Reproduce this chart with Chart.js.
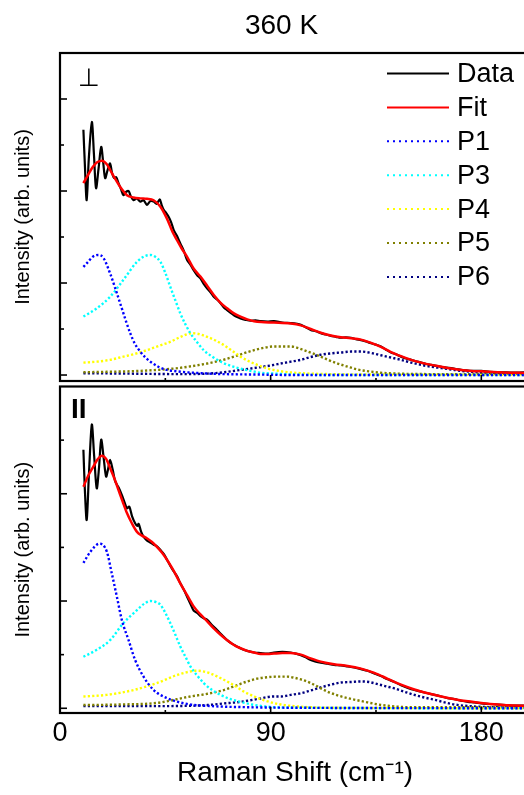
<!DOCTYPE html>
<html><head><meta charset="utf-8">
<script src="https://cdn.jsdelivr.net/npm/chart.js@4/dist/chart.umd.min.js"></script>
<style>
html,body{margin:0;padding:0;background:#fff;}
#wrap{position:relative;width:524px;height:795px;overflow:hidden;background:#fff;}
canvas{position:absolute;left:0;top:0;}
</style></head><body>
<div id="wrap">
<canvas id="c2" width="530" height="795" style="width:530px;height:795px"></canvas>
<canvas id="c1" width="563" height="384" style="width:563px;height:384px"></canvas>
</div>
<script>
// ---------- Data ----------
const titleText = '360 K';
const seriesNames = ['Data', 'Fit', 'P1', 'P3', 'P4', 'P5', 'P6'];
const xMajorTicks = [0, 90, 180];
const xMinorTicks = [45, 135];

// Perpendicular (top panel)
const perpDataX = [10,10.6,11.4,12.3,13.6,14.5,15.4,16.5,17.6,18.5,19.3,20.3,21.4,22.2,23.1,24,25,26,27.1,28.2,29.3,30.3,31.4,32.8,34.3,35.7,37.1,38.6,40,41.3,42.6,43.4,44.3,45.4,46.4,47.5,48.6,50,51.4,52.9,54.3,55.7,57.1,58.6,60,61.4,62.9,64.3,65.7,67.1,68.6,70,71.4,72.9,74.3,75.7,77.1,79.3,81.4,83.6,85.7,88.6,91.4,95,98.6,100.7,102.9,105,107.1,109.3,111.4,113.6,115.7,117.9,120,122.1,124.3,126.4,128.6,130.7,132.9,135,137.1,139.3,141.4,143.6,145.7,147.9,150,152.1,154.3,156.4,158.6,160.7,162.9,165,167.1,169.3,171.4,173.6,175.7,177.9,180,183.6,187.1,190.7,194.3,198,202,206,210,215];
const perpDataY = [5.33,4.6,3.8,4.7,5.5,4.8,4.06,4.5,4.96,4.6,4.28,4.45,4.6,4.4,4.28,4.3,4.17,4.05,3.91,3.98,4.0,3.88,3.8,3.84,3.77,3.8,3.7,3.78,3.77,3.72,3.82,3.7,3.59,3.52,3.44,3.32,3.15,3.02,2.86,2.7,2.5,2.4,2.28,2.17,2.1,1.98,1.88,1.8,1.7,1.64,1.56,1.47,1.41,1.35,1.3,1.26,1.23,1.2,1.18,1.19,1.17,1.16,1.17,1.14,1.13,1.12,1.09,1.04,0.98,0.95,0.91,0.88,0.85,0.83,0.81,0.82,0.81,0.78,0.76,0.73,0.69,0.66,0.62,0.55,0.49,0.45,0.4,0.36,0.33,0.3,0.27,0.24,0.22,0.2,0.18,0.16,0.15,0.13,0.11,0.1,0.09,0.09,0.09,0.07,0.06,0.06,0.05,0.06,0.05,0.05,0.05,0.05];
const perpFitX = [10,12,14,16,17.9,20,21.4,23.5,25.7,28.6,31.4,34.3,37.1,40,42.9,45.7,48,50,52,54.3,57,60,63,65.7,68.6,71.4,74.3,77.1,80,82.9,86,91.4,98.6,102.9,107.1,111.4,115.7,120,124.3,128.6,132.9,137.1,141.4,145.7,150,154.3,158.6,162.9,167.1,171.4,175.7,180,187,194,205,215];
const perpFitY = [4.17,4.35,4.52,4.63,4.66,4.58,4.46,4.27,4.09,3.91,3.86,3.84,3.83,3.8,3.66,3.4,3.12,2.93,2.75,2.57,2.32,2.14,1.93,1.74,1.57,1.45,1.34,1.27,1.21,1.17,1.15,1.14,1.12,1.08,1.0,0.92,0.86,0.82,0.8,0.77,0.7,0.61,0.5,0.41,0.33,0.27,0.22,0.18,0.14,0.11,0.09,0.08,0.06,0.05,0.04,0.04];
const perpP1X = [10,12,14,16.4,18.5,21.4,23.5,25.7,28,30,32,34.3,36.5,38.6,42,45.7,50,54,60,70,85,100,130,215];
const perpP1Y = [2.35,2.46,2.57,2.61,2.55,2.21,1.9,1.56,1.2,0.91,0.68,0.51,0.38,0.29,0.18,0.11,0.08,0.06,0.04,0.02,0.01,0,0,0];
const perpP3X = [10,15.7,21.4,27.1,32.9,36,38.6,41,42.9,45,47.1,49.3,51.4,53.6,55.7,58.6,61.4,65,68.6,72.9,77.1,81.4,85.7,92,100,120,215];
const perpP3Y = [1.27,1.45,1.7,2.07,2.46,2.58,2.61,2.56,2.46,2.22,1.92,1.62,1.34,1.1,0.91,0.71,0.54,0.4,0.29,0.2,0.14,0.09,0.05,0.03,0.01,0,0];
const perpP4X = [10,15.7,21.4,27.1,32,37.1,42,47.1,52,56.4,59.5,62.9,66.5,70,73.5,77.1,80.7,84.3,88,91.4,96,103,115,140,215];
const perpP4Y = [0.27,0.29,0.33,0.4,0.46,0.54,0.63,0.72,0.84,0.91,0.89,0.83,0.75,0.65,0.53,0.4,0.3,0.22,0.15,0.11,0.07,0.04,0.02,0.01,0];
const perpP5X = [10,20,34.3,48.6,56,62.9,69,74.3,79,82.9,87,91.4,95,98.6,101.5,104.3,108,111.4,115,118.6,123,127.1,132,137,145,160,215];
const perpP5Y = [0.06,0.07,0.09,0.14,0.19,0.25,0.32,0.4,0.48,0.54,0.59,0.62,0.62,0.62,0.59,0.54,0.47,0.4,0.32,0.25,0.18,0.12,0.08,0.05,0.03,0.02,0.02];
const perpP6X = [10,30,50,62.9,70,77.1,84,91.4,94.3,98.6,102.9,107,111.4,115.7,120,124.3,128.6,132.9,137.1,141.4,145.7,150,154.3,158.6,162.9,167.1,171.4,175.7,180,190,215];
const perpP6Y = [0.04,0.03,0.02,0.03,0.06,0.11,0.16,0.22,0.25,0.29,0.33,0.39,0.44,0.47,0.49,0.51,0.51,0.48,0.43,0.38,0.33,0.27,0.22,0.18,0.15,0.12,0.09,0.07,0.05,0.03,0.02];
const perpYMajor = [0, 2, 4, 6];
const perpYMinor = [1, 3, 5];

// Parallel (bottom panel)
const paraDataX = [10,10.6,11.4,12.4,13.6,14.6,15.7,16.7,17.6,18.7,19.7,20.5,21.4,22.5,23.6,25,26.4,27.5,28.6,29.6,30.8,32.1,33,33.6,34.6,35.7,37.1,38.6,40,41.4,42.9,44.3,45.7,47.1,48.6,50,51.4,52.9,54.3,55.7,57.1,58.6,60,61.4,62.9,65,67.1,69.3,71.4,73.6,75.7,77.9,80,82.9,85.7,88.6,91.4,95,98.6,100.7,102.9,105,107.1,109.3,111.4,114.3,117.1,120,122.9,125.7,128.6,131.4,134.3,137.1,140,142.9,145.7,148.6,151.4,154.3,157.1,160,162.9,165.7,168.6,171.4,174.3,177.1,180,183.5,187,190.5,194,198,202,206,210,215];
const paraDataY = [4.82,4.1,3.51,4.4,5.29,4.7,4.1,4.5,5.01,4.65,4.32,4.45,4.63,4.45,4.23,4.12,3.98,3.85,3.73,3.76,3.58,3.45,3.4,3.44,3.3,3.2,3.13,3.09,3.05,3.02,2.95,2.88,2.77,2.66,2.55,2.46,2.33,2.21,2.08,1.95,1.82,1.78,1.72,1.68,1.65,1.55,1.46,1.36,1.27,1.2,1.15,1.1,1.07,1.04,1.03,1.02,1.04,1.05,1.04,1.02,0.99,0.95,0.9,0.87,0.85,0.83,0.81,0.8,0.78,0.76,0.73,0.7,0.65,0.6,0.54,0.49,0.43,0.38,0.34,0.31,0.28,0.25,0.22,0.19,0.17,0.14,0.12,0.11,0.09,0.08,0.07,0.06,0.05,0.05,0.05,0.05,0.05,0.05];
const paraFitX = [10,12,14.3,16,17.9,19.7,21.4,23.2,25,26.8,28.6,30.7,32.9,35,37.1,39.3,41.4,43.6,45.7,48.6,51.4,54.3,57.1,60,62.9,65.7,68.6,71.4,74.3,77.1,80,82.9,85.7,88.6,91.4,95,98.6,102.9,107.1,111.4,117.1,122.9,128.6,134.3,140,145.7,151.4,157.1,162.9,168.6,174.3,180,187,194,205,215];
const paraFitY = [4.13,4.33,4.51,4.64,4.71,4.65,4.48,4.29,4.07,3.85,3.64,3.45,3.29,3.22,3.17,3.1,3.01,2.9,2.77,2.56,2.33,2.11,1.9,1.75,1.62,1.49,1.37,1.27,1.18,1.12,1.07,1.04,1.01,1.01,1.02,1.03,1.03,1.0,0.93,0.87,0.82,0.79,0.74,0.66,0.55,0.44,0.35,0.28,0.22,0.17,0.13,0.1,0.07,0.05,0.04,0.04];
const paraP1X = [10,13,16.9,20,22.1,24.3,26.4,29.3,32.1,35.7,40,45.7,54.3,65,80,100,215];
const paraP1Y = [2.71,2.92,3.07,2.92,2.52,2.08,1.65,1.27,0.9,0.59,0.34,0.19,0.08,0.04,0.02,0.01,0];
const paraP3X = [10,15.7,21.4,27.1,32.9,36,38.6,41,42.9,45,47.1,49.3,51.4,53.6,55.7,58.6,61.4,65,68.6,72.9,77.1,82,88.6,100,215];
const paraP3Y = [0.96,1.09,1.27,1.59,1.83,1.95,2.0,1.98,1.93,1.78,1.59,1.37,1.15,0.96,0.78,0.61,0.47,0.34,0.25,0.17,0.12,0.07,0.03,0.01,0];
const paraP4X = [10,20,31.4,41.4,50,54,57.9,61,64.3,67.8,71.4,75,78.6,83,87.1,94.3,103,115,215];
const paraP4Y = [0.22,0.25,0.34,0.47,0.62,0.67,0.7,0.69,0.65,0.58,0.5,0.41,0.31,0.22,0.15,0.07,0.03,0.01,0];
const paraP5X = [10,25,41.4,55.7,63,70,75,80,84,88.6,93,97,100,103.5,107.1,110.7,114.3,118.6,122.9,127,131.4,136,141.4,150,215];
const paraP5Y = [0.06,0.07,0.1,0.22,0.27,0.34,0.42,0.5,0.55,0.58,0.59,0.59,0.57,0.53,0.47,0.39,0.31,0.24,0.19,0.15,0.11,0.07,0.04,0.02,0.02];
const paraP6X = [10,40,62.9,70,77.1,84,91.4,94.3,98.6,102.9,107,111.4,115.7,120,124.3,128.6,132,135.7,139.3,142.9,147,151.4,155.7,160,164.3,168.6,175,185,215];
const paraP6Y = [0.04,0.04,0.06,0.09,0.12,0.17,0.22,0.22,0.25,0.28,0.33,0.39,0.44,0.48,0.49,0.5,0.49,0.45,0.41,0.37,0.31,0.25,0.2,0.16,0.11,0.07,0.04,0.02,0.01];
const paraYMajor = [0, 2, 4];
const paraYMinor = [1, 3, 5];

// ---------- Styling ----------
const FONT = 'Liberation Sans, Arial, Helvetica, sans-serif';
Chart.defaults.font.family = FONT;
Chart.defaults.color = '#000';
const styles = {
  Data: {color: '#000000', width: 2.2, dash: [], order: 1, tension: 0.3, mode: 'default'},
  Fit:  {color: '#ff0000', width: 2.5, dash: [], order: 0, tension: 0.4, mode: 'monotone'},
  P1:   {color: '#0000ff', width: 2.4, dash: [2.2, 2.2], order: 2, tension: 0.4, mode: 'monotone'},
  P3:   {color: '#00ffff', width: 2.4, dash: [2.2, 2.2], order: 3, tension: 0.4, mode: 'monotone'},
  P4:   {color: '#ffff00', width: 2.4, dash: [2.2, 2.2], order: 4, tension: 0.4, mode: 'monotone'},
  P5:   {color: '#808000', width: 2.4, dash: [2.2, 2.2], order: 5, tension: 0.4, mode: 'monotone'},
  P6:   {color: '#000080', width: 2.4, dash: [2.2, 2.2], order: 6, tension: 0.4, mode: 'monotone'}
};
const pts = (xs, ys) => xs.map((x, i) => ({x: x, y: ys[i]}));

function makeDatasets(pairs) {
  return seriesNames.map((name, i) => {
    const s = styles[name];
    return {
      label: name,
      data: pts(pairs[i][0], pairs[i][1]),
      borderColor: s.color, backgroundColor: s.color,
      borderWidth: s.width, borderDash: s.dash,
      pointRadius: 0, fill: false, order: s.order,
      tension: s.tension, cubicInterpolationMode: s.mode
    };
  });
}

// frame + inner ticks drawn through the chart's own scales
const framePlugin = {
  id: 'frame',
  afterDatasetsDraw(chart, args, o) {
    const {ctx, chartArea: a} = chart;
    const x = chart.scales.x, y = chart.scales.y;
    ctx.save();
    ctx.strokeStyle = '#000';
    ctx.lineWidth = 1.6;
    const seg = (x1, y1, x2, y2) => { ctx.beginPath(); ctx.moveTo(x1, y1); ctx.lineTo(x2, y2); ctx.stroke(); };
    xMajorTicks.forEach(v => { const p = x.getPixelForValue(v); seg(p, a.bottom, p, a.bottom - 6); });
    xMinorTicks.forEach(v => { const p = x.getPixelForValue(v); seg(p, a.bottom, p, a.bottom - 3); });
    o.yMajor.forEach(v => { const p = y.getPixelForValue(v); seg(a.left, p, a.left + 7, p); });
    o.yMinor.forEach(v => { const p = y.getPixelForValue(v); seg(a.left, p, a.left + 4, p); });
    ctx.lineWidth = 2.2;
    ctx.strokeRect(a.left, a.top, a.right - a.left, a.bottom - a.top);
    if (o.label) {
      ctx.fillStyle = '#000';
      ctx.font = o.labelFont;
      ctx.textBaseline = 'alphabetic';
      ctx.textAlign = 'left';
      ctx.fillText(o.label, a.left + o.labelDx, a.top + o.labelDy);
    }
    ctx.restore();
  }
};

// legend drawn inside the top plot from the dataset definitions
const insideLegend = {
  id: 'insideLegend',
  afterDraw(chart, args, o) {
    if (!o.show) return;
    const {ctx, chartArea: a} = chart;
    ctx.save();
    ctx.font = '27px ' + FONT;
    ctx.textBaseline = 'middle';
    ctx.textAlign = 'left';
    seriesNames.forEach((name, i) => {
      const ds = chart.data.datasets.find(d => d.label === name);
      const yy = a.top + o.top + i * o.step;
      ctx.strokeStyle = ds.borderColor;
      ctx.lineWidth = 2;
      ctx.setLineDash(ds.borderDash.length ? [2, 4] : []);
      ctx.beginPath(); ctx.moveTo(o.lineX1, yy); ctx.lineTo(o.lineX2, yy); ctx.stroke();
      ctx.setLineDash([]);
      ctx.fillStyle = '#000';
      ctx.fillText(name, o.textX, yy + 1);
    });
    ctx.restore();
  }
};

function yAxis(min, max) {
  return {
    min: min, max: max,
    grid: {display: false, drawTicks: false},
    border: {display: false},
    ticks: {display: false},
    title: {display: true, text: 'Intensity (arb. units)', color: '#000',
            font: {family: FONT, size: 20}, padding: {top: 11, bottom: 0}},
    afterFit(s) { s.width = 60; }
  };
}

// ---------- Top panel (⊥) ----------
new Chart(document.getElementById('c1'), {
  type: 'line',
  data: {datasets: makeDatasets([
    [perpDataX, perpDataY], [perpFitX, perpFitY], [perpP1X, perpP1Y], [perpP3X, perpP3Y],
    [perpP4X, perpP4Y], [perpP5X, perpP5Y], [perpP6X, perpP6Y]])},
  options: {
    responsive: false, animation: false,
    layout: {padding: {left: 0, right: 0, top: 0, bottom: 3}},
    plugins: {
      legend: {display: false}, tooltip: {enabled: false},
      title: {display: true, text: titleText, color: '#000',
              font: {family: FONT, size: 28, weight: 'normal'}, padding: {top: 9, bottom: 10.4}},
      frame: {yMajor: perpYMajor, yMinor: perpYMinor, label: '⊥',
              labelFont: '25px "DejaVu Sans"', labelDx: 18, labelDy: 33},
      insideLegend: {show: true, top: 20.5, step: 33.9, lineX1: 387, lineX2: 449, textX: 457}
    },
    scales: {
      x: {type: 'linear', min: 0, max: 214.9, display: false},
      y: yAxis(-0.13, 7.0)
    }
  },
  plugins: [framePlugin, insideLegend]
});

// ---------- Bottom panel (II) ----------
new Chart(document.getElementById('c2'), {
  type: 'line',
  data: {datasets: makeDatasets([
    [paraDataX, paraDataY], [paraFitX, paraFitY], [paraP1X, paraP1Y], [paraP3X, paraP3Y],
    [paraP4X, paraP4Y], [paraP5X, paraP5Y], [paraP6X, paraP6Y]])},
  options: {
    responsive: false, animation: false,
    layout: {padding: {left: 0, right: 0, top: 386.5, bottom: 0}},
    plugins: {
      legend: {display: false}, tooltip: {enabled: false},
      frame: {yMajor: paraYMajor, yMinor: paraYMinor, label: 'II',
              labelFont: 'bold 28px ' + FONT, labelDx: 11, labelDy: 31.5},
      insideLegend: {show: false}
    },
    scales: {
      x: {type: 'linear', min: 0, max: 200.8,
          grid: {display: false, drawTicks: false}, border: {display: false},
          ticks: {stepSize: 90, includeBounds: false, autoSkip: false, maxRotation: 0,
                  padding: 4, color: '#000', font: {family: FONT, size: 27},
                  callback: v => String(v)},
          title: {display: true, text: 'Raman Shift (cm⁻¹)', color: '#000',
                  font: {family: FONT, size: 28}, padding: {top: 0, bottom: 5}},
          afterFit(s) { s.height = 82; }},
      y: yAxis(-0.088, 6.0)
    }
  },
  plugins: [framePlugin, insideLegend]
});
</script>
</body></html>
